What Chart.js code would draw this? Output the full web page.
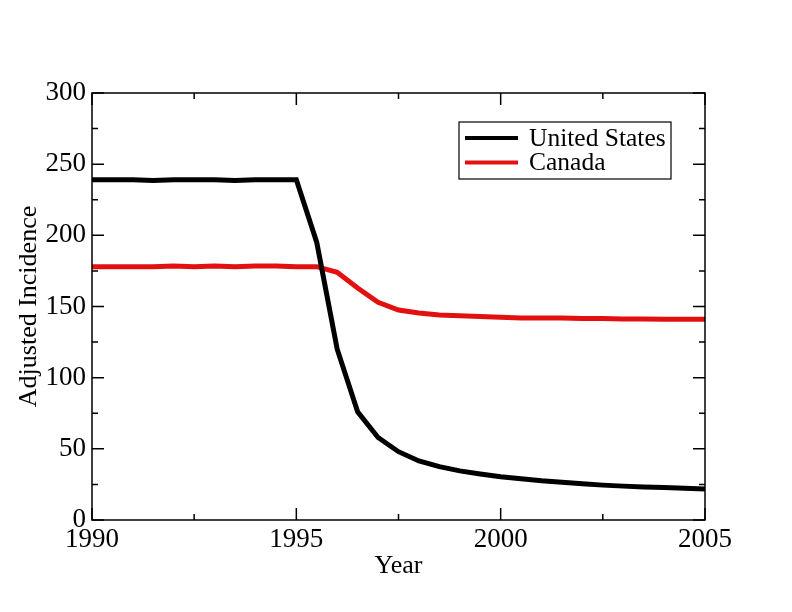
<!DOCTYPE html>
<html>
<head>
<meta charset="utf-8">
<script src="https://cdn.jsdelivr.net/npm/chart.js@4.4.1/dist/chart.umd.min.js"></script>
<style>
  html, body { margin: 0; padding: 0; background: #fff; }
  #wrap { width: 792px; height: 612px; }
</style>
</head>
<body>
<div id="wrap"><canvas id="chart" width="792" height="612"></canvas></div>
<script>
/* ── Data (half-year samples) ── */
var years = [1990, 1990.5, 1991, 1991.5, 1992, 1992.5, 1993, 1993.5, 1994, 1994.5,
             1995, 1995.5, 1996, 1996.5, 1997, 1997.5, 1998, 1998.5, 1999, 1999.5,
             2000, 2000.5, 2001, 2001.5, 2002, 2002.5, 2003, 2003.5, 2004, 2004.5, 2005];
var usValues = [239, 239, 239, 238.5, 239, 239, 239, 238.5, 239, 239,
                239, 195, 120, 76, 58, 48, 41.5, 37.5, 34.5, 32.3,
                30.4, 29, 27.5, 26.5, 25.5, 24.5, 23.8, 23.2, 22.8, 22.3, 21.8];
var canadaValues = [178, 178, 178, 178, 178.5, 178, 178.5, 178, 178.5, 178.5,
                    178, 178, 174, 163, 153, 147.5, 145.5, 144, 143.5, 143,
                    142.5, 142, 142, 142, 141.5, 141.5, 141.3, 141.2, 141, 141, 141];
var seriesNames = ['United States', 'Canada'];
var xTicks = [1990, 1995, 2000, 2005];
var yTicks = [0, 50, 100, 150, 200, 250, 300];

var SERIF = '"Liberation Serif", "DejaVu Serif", serif';

function pts(vals) {
  return years.map(function(y, i) { return { x: y, y: vals[i] }; });
}

/* ── Frame with inward major/minor ticks on all four sides ── */
var framePlugin = {
  id: 'frameTicks',
  afterDatasetsDraw: function(chart) {
    var ctx = chart.ctx, a = chart.chartArea;
    var xs = chart.scales.x, ys = chart.scales.y;
    ctx.save();
    ctx.strokeStyle = '#000';
    ctx.lineWidth = 1.5;
    ctx.strokeRect(a.left, a.top, a.right - a.left, a.bottom - a.top);
    ctx.beginPath();
    var v, p, len;
    for (v = xs.min; v <= xs.max + 1e-9; v += 2.5) {
      p = xs.getPixelForValue(v);
      len = (Math.abs(v % 5) < 1e-6) ? 12 : 6;
      ctx.moveTo(p, a.bottom); ctx.lineTo(p, a.bottom - len);
      ctx.moveTo(p, a.top); ctx.lineTo(p, a.top + len);
    }
    for (v = ys.min; v <= ys.max + 1e-9; v += 25) {
      p = ys.getPixelForValue(v);
      len = (v % 50 === 0) ? 12 : 6;
      ctx.moveTo(a.left, p); ctx.lineTo(a.left + len, p);
      ctx.moveTo(a.right, p); ctx.lineTo(a.right - len, p);
    }
    ctx.stroke();
    ctx.restore();
  }
};

/* ── Legend box inside the plot (top right) ── */
var legendPlugin = {
  id: 'boxLegend',
  afterDraw: function(chart) {
    var ctx = chart.ctx;
    var bx = 459, by = 122, bw = 212, bh = 57;
    ctx.save();
    ctx.fillStyle = '#fff';
    ctx.fillRect(bx, by, bw, bh);
    ctx.strokeStyle = '#000';
    ctx.lineWidth = 1.2;
    ctx.strokeRect(bx, by, bw, bh);
    ctx.font = '25.5px ' + SERIF;
    ctx.textBaseline = 'middle';
    chart.data.datasets.forEach(function(ds, i) {
      var y = by + 16 + i * 24.5;
      ctx.strokeStyle = ds.borderColor;
      ctx.lineWidth = 4;
      ctx.beginPath();
      ctx.moveTo(465, y); ctx.lineTo(518, y);
      ctx.stroke();
      ctx.fillStyle = '#000';
      ctx.fillText(ds.label, 529, y + 1);
    });
    ctx.restore();
  }
};

new Chart(document.getElementById('chart'), {
  type: 'line',
  data: {
    datasets: [
      { label: seriesNames[0], data: pts(usValues), borderColor: '#000000',
        borderWidth: 5, pointRadius: 0, tension: 0 },
      { label: seriesNames[1], data: pts(canadaValues), borderColor: '#e31010',
        borderWidth: 5, pointRadius: 0, tension: 0 }
    ]
  },
  options: {
    responsive: false,
    animation: false,
    layout: { padding: { left: 0, top: 93, right: 87, bottom: 0 } },
    plugins: { legend: { display: false }, tooltip: { enabled: false } },
    scales: {
      x: {
        type: 'linear', min: 1990, max: 2005,
        afterBuildTicks: function(s) { s.ticks = xTicks.map(function(v) { return { value: v }; }); },
        afterFit: function(s) { s.height = 92; },
        grid: { display: false, drawTicks: false },
        border: { display: false },
        ticks: { color: '#000', font: { family: SERIF, size: 27 }, padding: 4, maxRotation: 0,
                 callback: function(v) { return String(v); } },
        title: { display: true, text: 'Year', color: '#000',
                 font: { family: SERIF, size: 26 }, padding: { top: 0, bottom: 30 } }
      },
      y: {
        type: 'linear', min: 0, max: 300,
        afterBuildTicks: function(s) { s.ticks = yTicks.map(function(v) { return { value: v }; }); },
        afterFit: function(s) { s.width = 92; },
        grid: { display: false, drawTicks: false },
        border: { display: false },
        ticks: { color: '#000', font: { family: SERIF, size: 27 }, padding: 6 },
        title: { display: true, text: 'Adjusted Incidence', color: '#000',
                 font: { family: SERIF, size: 26 }, padding: { top: 14, bottom: 0 } }
      }
    }
  },
  plugins: [framePlugin, legendPlugin]
});
</script>
</body>
</html>
